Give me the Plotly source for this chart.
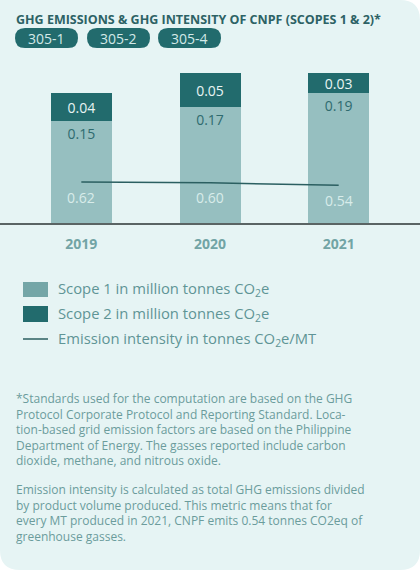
import plotly.graph_objects as go

years = ["2019", "2020", "2021"]
scope1 = [0.15, 0.17, 0.19]
scope2 = [0.04, 0.05, 0.03]
intensity = [0.62, 0.60, 0.54]
badges = ["305-1", "305-2", "305-4"]

title_text = "GHG EMISSIONS & GHG INTENSITY OF CNPF (SCOPES 1 & 2)*"
legend_labels = [
    "Scope 1 in million tonnes CO<sub>2</sub>e",
    "Scope 2 in million tonnes CO<sub>2</sub>e",
    "Emission intensity in tonnes CO<sub>2</sub>e/MT",
]
note1 = [
    "*Standards used for the computation are based on the GHG",
    "Protocol Corporate Protocol and Reporting Standard. Loca-",
    "tion-based grid emission factors are based on the Philippine",
    "Department of Energy. The gasses reported include carbon",
    "dioxide, methane, and nitrous oxide.",
]
note2 = [
    "Emission intensity is calculated as total GHG emissions divided",
    "by product volume produced. This metric means that for",
    "every MT produced in 2021, CNPF emits 0.54 tonnes CO2eq of",
    "greenhouse gasses.",
]

W, H = 420, 570
PT, PB = 63, 223  # plot area top/bottom in px
FONT = "Open Sans"

BG = "#e6f4f4"
LIGHT = "#96bfc0"
DARK = "#226b6d"
LINE = "#2b5f61"


def px(x):
    return x / W


def py(y):
    return (PB - y) / (PB - PT)


fig = go.Figure()
fig.add_trace(go.Bar(
    x=years, y=scope1, marker=dict(color=LIGHT, line=dict(width=0)),
    width=0.474, text=[f"{v:.2f}" for v in scope1], textposition="inside",
    insidetextanchor="end", textfont=dict(color="#2f6b6f", size=14, family=FONT),
    showlegend=False, hoverinfo="skip",
))
fig.add_trace(go.Bar(
    x=years, y=scope2, marker=dict(color=DARK, line=dict(width=0)),
    width=0.474, text=[f"{v:.2f}" for v in scope2], textposition="inside",
    insidetextanchor="middle", textfont=dict(color="#e8f4f3", size=14, family=FONT),
    showlegend=False, hoverinfo="skip",
))
fig.add_trace(go.Scatter(
    x=years, y=intensity, yaxis="y2", mode="lines",
    line=dict(color=LINE, width=1.5),
    showlegend=False, hoverinfo="skip",
))

shapes = []
# card with rounded corners (top-left square)
r = 20
rx, ry = r / W, r / (PB - PT)
top, bot = py(0), py(H)
shapes.append(dict(
    type="path", xref="paper", yref="paper", layer="below",
    path=(f"M 0,{top} L {1-rx},{top} Q 1,{top} 1,{top-ry} L 1,{bot+ry} "
          f"Q 1,{bot} {1-rx},{bot} L {rx},{bot} Q 0,{bot} 0,{bot+ry} Z"),
    fillcolor=BG, line=dict(width=0),
))

annotations = []
# intensity value labels, just below the line points (category index on x)
for i, v in enumerate(intensity):
    annotations.append(dict(
        x=i, y=v, xref="x", yref="y2", yshift=-15, showarrow=False,
        xanchor="center", yanchor="middle", text=f"{v:.2f}", borderpad=0,
        font=dict(family=FONT, size=14, color="#d8ecea"),
    ))

annotations.append(dict(
    x=px(15), y=py(20), xref="paper", yref="paper", xanchor="left", yanchor="middle",
    text=f"<b>{title_text}</b>", showarrow=False, borderpad=0,
    font=dict(family=FONT, size=12.5, color="#2d6265"),
))

# badges
pill_x = [15, 87, 158]
pw, ph = 63, 20
pt = 28
for bx, lab in zip(pill_x, badges):
    x0, x1 = px(bx), px(bx + pw)
    y0, y1 = py(pt + ph), py(pt)
    hr = ph / 2
    hx, hy = hr / W, hr / (PB - PT)
    path = (f"M {x0+hx},{y1} L {x1-hx},{y1} Q {x1},{y1} {x1},{y1-hy} Q {x1},{y0} {x1-hx},{y0} "
            f"L {x0+hx},{y0} Q {x0},{y0} {x0},{y0+hy} Q {x0},{y1} {x0+hx},{y1} Z")
    shapes.append(dict(type="path", xref="paper", yref="paper", path=path,
                       fillcolor=DARK, line=dict(width=0)))
    annotations.append(dict(
        x=px(bx + pw / 2), y=py(pt + ph / 2), xref="paper", yref="paper",
        text=lab, showarrow=False, xanchor="center", yanchor="middle", borderpad=0,
        font=dict(family=FONT, size=14, color="#d3e9e8"),
    ))

# legend
leg_y = [289, 314, 339]
shapes.append(dict(type="rect", xref="paper", yref="paper",
                   x0=px(23), x1=px(48), y0=py(297), y1=py(282),
                   fillcolor="#74a6a7", line=dict(width=0)))
shapes.append(dict(type="rect", xref="paper", yref="paper",
                   x0=px(23), x1=px(48), y0=py(322), y1=py(306),
                   fillcolor=DARK, line=dict(width=0)))
shapes.append(dict(type="line", xref="paper", yref="paper",
                   x0=px(23), x1=px(48), y0=py(339), y1=py(339),
                   line=dict(color=LINE, width=1.5)))
for yy, lab in zip(leg_y, legend_labels):
    annotations.append(dict(
        x=px(57), y=py(yy), xref="paper", yref="paper", xanchor="left", yanchor="middle",
        text=lab, showarrow=False, borderpad=0,
        font=dict(family=FONT, size=14.8, color="#5f9596"),
    ))

# notes, one block per paragraph
for lines, yc in ((note1, 429), (note2, 512.5)):
    annotations.append(dict(
        x=px(15), y=py(yc), xref="paper", yref="paper", xanchor="left", yanchor="middle",
        text="<br>".join(lines), showarrow=False, borderpad=0, align="left",
        font=dict(family=FONT, size=12, color="#6b9c9c"),
    ))

fig.update_layout(
    width=W, height=H,
    margin=dict(l=0, r=0, t=PT, b=H - PB, pad=0),
    paper_bgcolor="white", plot_bgcolor="rgba(0,0,0,0)",
    barmode="stack", showlegend=False,
    uniformtext=dict(minsize=14, mode="show"),
    xaxis=dict(type="category", range=[-0.632, 2.632], showgrid=False, zeroline=False,
               showline=True, linecolor="#5a6464", linewidth=1.5, ticks="",
               tickfont=dict(family=FONT, size=14, color="#72a4a5", weight="bold"),
               ticklabelstandoff=7, fixedrange=True),
    yaxis=dict(range=[0, 0.2347], visible=False, showgrid=False, zeroline=False),
    yaxis2=dict(range=[-0.373, 3.506], overlaying="y", visible=False,
                showgrid=False, zeroline=False),
    shapes=shapes, annotations=annotations,
)

fig.write_html("out.html", config={"displayModeBar": False},
               post_script="document.body.style.margin='0';")
